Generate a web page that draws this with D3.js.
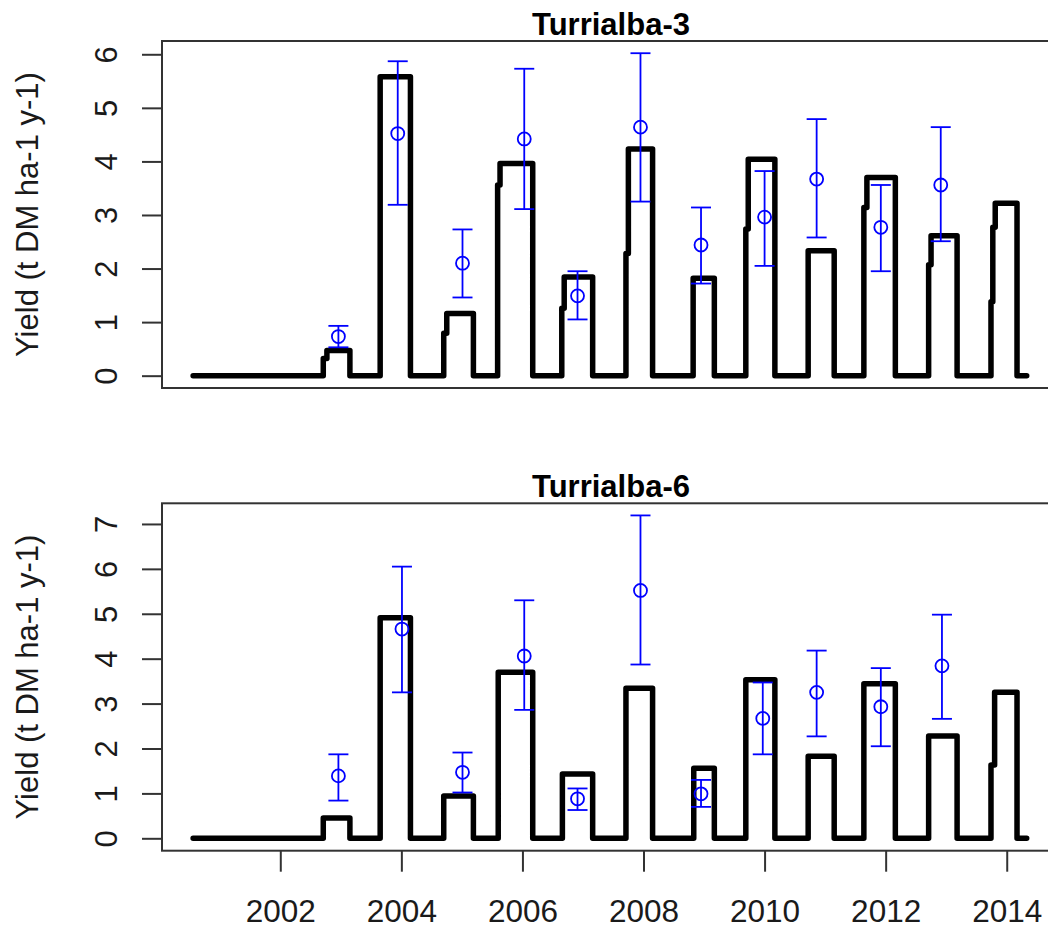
<!DOCTYPE html>
<html>
<head>
<meta charset="utf-8">
<script src="https://cdnjs.cloudflare.com/ajax/libs/d3/7.8.5/d3.min.js"></script>
<style>
  body { margin: 0; background: #fff; }
  text { font-family: "Liberation Sans", Arial, sans-serif; }
</style>
</head>
<body>
<div id="chart"></div>
<script>
const svgWidth = 1048
const svgHeight = 929

// step line: time (decimal year) where value starts, value held until next time
const t3 = [2000.56, 2002.71, 2002.77, 2003.15, 2003.65, 2004.15, 2004.70, 2004.75, 2005.19, 2005.59, 2005.63, 2006.17,
  2006.65, 2006.69, 2007.16, 2007.71, 2007.75, 2008.15, 2008.82, 2009.17, 2009.69, 2009.73, 2010.17,
  2010.72, 2011.15, 2011.64, 2011.69, 2012.16, 2012.71, 2012.75, 2013.18, 2013.74, 2013.77, 2013.81, 2014.17, 2014.33]
const y3 = [0, 0.32, 0.47, 0, 5.58, 0, 0.79, 1.16, 0, 3.56, 3.96, 0,
  1.26, 1.84, 0, 2.28, 4.23, 0, 1.82, 0, 2.74, 4.04, 0,
  2.33, 0, 3.14, 3.70, 0, 2.07, 2.61, 0, 1.38, 2.77, 3.22, 0, 0]

const t6 = [2000.56, 2002.71, 2003.15, 2003.65, 2004.15, 2004.70, 2005.19, 2005.60, 2006.17,
  2006.66, 2007.16, 2007.71, 2008.15, 2008.83, 2009.17, 2009.69, 2010.17,
  2010.72, 2011.15, 2011.64, 2012.16, 2012.71, 2013.18, 2013.74, 2013.80, 2014.17, 2014.33]
const y6 = [0, 0.45, 0, 4.91, 0, 0.94, 0, 3.70, 0,
  1.43, 0, 3.34, 0, 1.56, 0, 3.53, 0,
  1.83, 0, 3.44, 0, 2.28, 0, 1.63, 3.25, 0, 0]

// observed yields with error bars
const obsT3 = [2002.96, 2003.94, 2005.01, 2006.03, 2006.91, 2007.95, 2008.95, 2010.00, 2010.86, 2011.92, 2012.91]
const obsMean3 = [0.73, 4.52, 2.10, 4.42, 1.49, 4.64, 2.44, 2.96, 3.67, 2.77, 3.56]
const obsLow3 = [0.53, 3.19, 1.46, 3.11, 1.05, 3.25, 1.72, 2.05, 2.58, 1.95, 2.51]
const obsHigh3 = [0.93, 5.87, 2.73, 5.73, 1.95, 6.02, 3.14, 3.82, 4.79, 3.56, 4.64]

const obsT6 = [2002.96, 2004.01, 2005.01, 2006.03, 2006.91, 2007.95, 2008.95, 2009.97, 2010.86, 2011.92, 2012.93]
const obsMean6 = [1.39, 4.66, 1.47, 4.06, 0.88, 5.52, 0.99, 2.67, 3.25, 2.93, 3.84]
const obsLow6 = [0.84, 3.25, 1.02, 2.86, 0.63, 3.87, 0.70, 1.87, 2.27, 2.05, 2.66]
const obsHigh6 = [1.87, 6.05, 1.91, 5.30, 1.11, 7.19, 1.30, 3.47, 4.18, 3.79, 4.98]

const xTicks = [2002, 2004, 2006, 2008, 2010, 2012, 2014]
const yTicks3 = [0, 1, 2, 3, 4, 5, 6]
const yTicks6 = [0, 1, 2, 3, 4, 5, 6, 7]

const yLabel = "Yield (t DM ha-1 y-1)"

const plotLeft = 162, plotRight = 1060

let svg = d3.select("#chart")
  .append("svg")
  .attr("width", svgWidth)
  .attr("height", svgHeight)

var x = d3.scaleLinear()
  .domain([2000.046, 2014.88])
  .range([plotLeft, plotRight])

function renderPanel(opts) {
  var y = d3.scaleLinear()
    .domain(opts.yDomain)
    .range([opts.bottom, opts.top])

  let g = svg.append("g")

  // model step line
  var pts = opts.t.map((t, i) => [t, opts.v[i]])
  var line = d3.line()
    .x(d => x(d[0]))
    .y(d => y(d[1]))
    .curve(d3.curveStepAfter)
  g.append("path")
    .attr("d", line(pts))
    .attr("fill", "none")
    .attr("stroke", "#000")
    .attr("stroke-width", 5.5)
    .attr("stroke-linejoin", "round")
    .attr("stroke-linecap", "round")

  // error bars
  var obs = opts.obsT.map((t, i) => ({ t: t, m: opts.mean[i], lo: opts.low[i], hi: opts.high[i] }))
  var eb = g.selectAll(".eb").data(obs).enter().append("g")
    .attr("stroke", "#0000ff")
    .attr("stroke-width", 1.8)
    .attr("fill", "none")
  eb.append("line")
    .attr("x1", d => x(d.t)).attr("x2", d => x(d.t))
    .attr("y1", d => y(d.lo)).attr("y2", d => y(d.hi))
  eb.append("line")
    .attr("x1", d => x(d.t) - 10).attr("x2", d => x(d.t) + 10)
    .attr("y1", d => y(d.lo)).attr("y2", d => y(d.lo))
  eb.append("line")
    .attr("x1", d => x(d.t) - 10).attr("x2", d => x(d.t) + 10)
    .attr("y1", d => y(d.hi)).attr("y2", d => y(d.hi))
  eb.append("circle")
    .attr("cx", d => x(d.t))
    .attr("cy", d => y(d.m))
    .attr("r", 6.5)

  // frame
  g.append("rect")
    .attr("x", plotLeft)
    .attr("y", opts.top)
    .attr("width", plotRight - plotLeft)
    .attr("height", opts.bottom - opts.top)
    .attr("fill", "none")
    .attr("stroke", "#333")
    .attr("stroke-width", 2)

  // y axis
  var yAxisCall = d3.axisLeft(y)
    .tickValues(opts.yTicks)
    .tickFormat(d3.format("d"))
    .tickSize(20)
  var ya = g.append("g")
    .attr("class", "y axis")
    .attr("transform", "translate(" + plotLeft + ",0)")
    .call(yAxisCall)
  ya.select(".domain").remove()
  ya.selectAll("line").attr("stroke", "#333").attr("stroke-width", 2)
  ya.selectAll("text")
    .attr("font-size", "31px")
    .attr("fill", "#1a1a1a")
    .attr("x", null).attr("dy", null)
    .attr("text-anchor", "middle")
    .attr("transform", "translate(-45,0) rotate(-90)")

  // y label
  g.append("text")
    .attr("transform", "translate(38," + (opts.top + opts.bottom) / 2 + ") rotate(-90)")
    .attr("text-anchor", "middle")
    .attr("font-size", "31px")
    .attr("fill", "#1a1a1a")
    .text(yLabel)

  // title
  g.append("text")
    .attr("x", (plotLeft + plotRight) / 2)
    .attr("y", opts.top - 6)
    .attr("text-anchor", "middle")
    .attr("font-size", "31px")
    .attr("font-weight", "bold")
    .attr("fill", "#000")
    .text(opts.title)

  if (opts.xAxis) {
    var xAxisCall = d3.axisBottom(x)
      .tickValues(xTicks)
      .tickFormat(d3.format("d"))
      .tickSize(21)
      .tickPadding(0)
    var xa = g.append("g")
      .attr("class", "x axis")
      .attr("transform", "translate(0," + opts.bottom + ")")
      .call(xAxisCall)
    xa.select(".domain").remove()
    xa.selectAll("line").attr("stroke", "#333").attr("stroke-width", 2)
    xa.selectAll("text")
      .attr("font-size", "31.5px")
      .attr("fill", "#1a1a1a")
      .attr("dy", null)
      .attr("y", 71)
  }
}

renderPanel({
  title: "Turrialba-3", top: 41, bottom: 388, yDomain: [-0.23, 6.248], yTicks: yTicks3,
  t: t3, v: y3, obsT: obsT3, mean: obsMean3, low: obsLow3, high: obsHigh3, xAxis: false
})
renderPanel({
  title: "Turrialba-6", top: 503.3, bottom: 850.7, yDomain: [-0.276, 7.46], yTicks: yTicks6,
  t: t6, v: y6, obsT: obsT6, mean: obsMean6, low: obsLow6, high: obsHigh6, xAxis: true
})
</script>
</body>
</html>
